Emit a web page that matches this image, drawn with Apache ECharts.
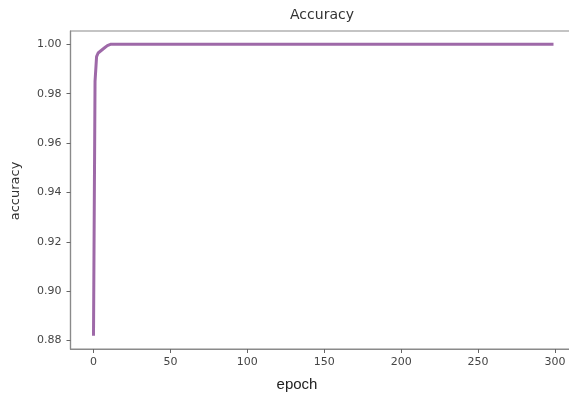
<!DOCTYPE html>
<html>
<head>
<meta charset="utf-8">
<script src="https://cdn.jsdelivr.net/npm/echarts@6/dist/echarts.min.js"></script>
<style>
html,body{margin:0;padding:0;background:#fff;}
#c{width:569px;height:398px;}
</style>
</head>
<body>
<div id="c"></div>
<script>
var titleText = "Accuracy";
var xName = "epoch";
var yName = "accuracy";
var xTicks = [0, 50, 100, 150, 200, 250, 300];
var yTicks = [0.88, 0.90, 0.92, 0.94, 0.96, 0.98, 1.00];
// accuracy per epoch (epoch = index, 0..299)
var accuracy = [
0.882, 0.985, 0.995, 0.9965, 0.997, 0.9975, 0.998, 0.9985, 0.999, 0.9995,
1, 1, 1, 1, 1, 1, 1, 1, 1, 1, 1, 1, 1, 1, 1, 1, 1, 1, 1, 1,
1, 1, 1, 1, 1, 1, 1, 1, 1, 1, 1, 1, 1, 1, 1, 1, 1, 1, 1, 1,
1, 1, 1, 1, 1, 1, 1, 1, 1, 1, 1, 1, 1, 1, 1, 1, 1, 1, 1, 1,
1, 1, 1, 1, 1, 1, 1, 1, 1, 1, 1, 1, 1, 1, 1, 1, 1, 1, 1, 1,
1, 1, 1, 1, 1, 1, 1, 1, 1, 1, 1, 1, 1, 1, 1, 1, 1, 1, 1, 1,
1, 1, 1, 1, 1, 1, 1, 1, 1, 1, 1, 1, 1, 1, 1, 1, 1, 1, 1, 1,
1, 1, 1, 1, 1, 1, 1, 1, 1, 1, 1, 1, 1, 1, 1, 1, 1, 1, 1, 1,
1, 1, 1, 1, 1, 1, 1, 1, 1, 1, 1, 1, 1, 1, 1, 1, 1, 1, 1, 1,
1, 1, 1, 1, 1, 1, 1, 1, 1, 1, 1, 1, 1, 1, 1, 1, 1, 1, 1, 1,
1, 1, 1, 1, 1, 1, 1, 1, 1, 1, 1, 1, 1, 1, 1, 1, 1, 1, 1, 1,
1, 1, 1, 1, 1, 1, 1, 1, 1, 1, 1, 1, 1, 1, 1, 1, 1, 1, 1, 1,
1, 1, 1, 1, 1, 1, 1, 1, 1, 1, 1, 1, 1, 1, 1, 1, 1, 1, 1, 1,
1, 1, 1, 1, 1, 1, 1, 1, 1, 1, 1, 1, 1, 1, 1, 1, 1, 1, 1, 1,
1, 1, 1, 1, 1, 1, 1, 1, 1, 1, 1, 1, 1, 1, 1, 1, 1, 1, 1, 1,
1, 1, 1, 1, 1, 1, 1, 1, 1, 1
];

var seriesData = accuracy.map(function (v, i) { return [i, v]; });

var chart = echarts.init(document.getElementById('c'), null, {renderer: 'canvas'});
var labelStyle = {color: '#454545', fontFamily: 'DejaVu Sans', fontSize: 11};
chart.setOption({
  animation: false,
  backgroundColor: '#ffffff',
  grid: {
    left: 70.5, top: 31, width: 506, height: 318,
    outerBoundsMode: 'none', containLabel: false,
    show: true, borderColor: '#8a8a8a', borderWidth: 1.2, backgroundColor: 'transparent'
  },
  xAxis: {
    type: 'value', min: -14.95, max: 313.95,
    axisLine: {show: true, onZero: false, lineStyle: {color: '#8a8a8a', width: 1.2}},
    axisTick: {show: true, inside: false, length: 4, lineStyle: {color: '#666'}, customValues: xTicks},
    axisLabel: Object.assign({customValues: xTicks, margin: 8, showMinLabel: true, showMaxLabel: true, hideOverlap: false}, labelStyle),
    splitLine: {show: false}
  },
  yAxis: {
    type: 'value', min: 0.8766, max: 1.0054,
    axisLine: {show: true, onZero: false, lineStyle: {color: '#8a8a8a', width: 1.2}},
    axisTick: {show: true, inside: false, length: 4, lineStyle: {color: '#666'}, customValues: yTicks},
    axisLabel: Object.assign({customValues: yTicks, margin: 9, formatter: function (v) { return v.toFixed(2); }}, labelStyle),
    splitLine: {show: false}
  },
  series: [{
    type: 'line',
    data: seriesData,
    showSymbol: false,
    symbol: 'none',
    lineStyle: {color: '#93599f', width: 3, opacity: 0.9},
    clip: true
  }],
  graphic: [
    {type: 'text', style: {text: titleText, font: '14px "DejaVu Sans"', fill: '#333', textAlign: 'center', textVerticalAlign: 'middle'}, position: [322, 15], silent: true},
    {type: 'text', style: {text: xName, font: '15px "Liberation Sans"', fill: '#222', textAlign: 'center', textVerticalAlign: 'middle'}, position: [297, 385], silent: true},
    {type: 'text', style: {text: yName, font: '13px "DejaVu Sans"', fill: '#333', textAlign: 'center', textVerticalAlign: 'middle'}, position: [16, 191], rotation: Math.PI / 2, silent: true}
  ]
});
</script>
</body>
</html>
